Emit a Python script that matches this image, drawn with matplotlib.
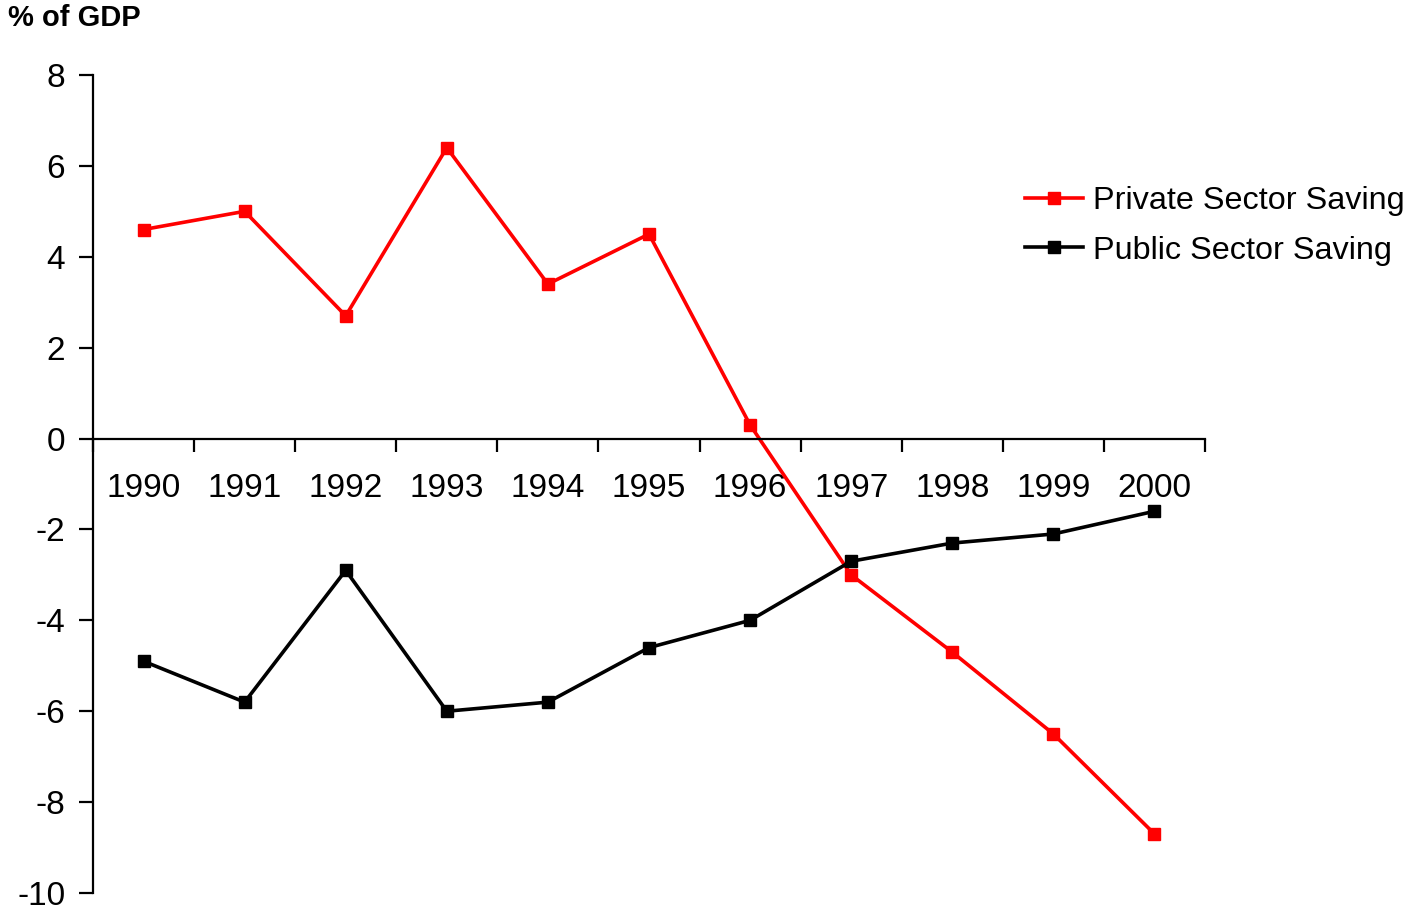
import matplotlib.pyplot as plt
from matplotlib.ticker import FixedLocator

years = ["1990", "1991", "1992", "1993", "1994", "1995",
         "1996", "1997", "1998", "1999", "2000"]
private_saving = [4.6, 5.0, 2.7, 6.4, 3.4, 4.5, 0.3, -3.0, -4.7, -6.5, -8.7]
public_saving = [-4.9, -5.8, -2.9, -6.0, -5.8, -4.6, -4.0, -2.7, -2.3, -2.1, -1.6]

plt.rcParams['font.family'] = ['Liberation Sans', 'DejaVu Sans']
plt.rcParams['axes.unicode_minus'] = False

fig = plt.figure(figsize=(14.09, 9.08), dpi=100)
ax = fig.add_axes([93 / 1409, 1 - 893 / 908, (1205 - 93) / 1409, (893 - 75) / 908])

x = list(range(len(years)))
ax.plot(x, private_saving, color="#ff0000", lw=2.6, marker="s", ms=8,
        label="Private Sector Saving", clip_on=False)
ax.plot(x, public_saving, color="black", lw=2.6, marker="s", ms=8,
        label="Public Sector Saving", clip_on=False)

ax.set_xlim(-0.5, len(years) - 0.5)
ax.set_ylim(-10, 8)
ax.set_yticks(range(-10, 9, 2))
ax.tick_params(axis="y", labelsize=24, length=10, width=1.6, direction="out", pad=10)

# category axis sits on the zero line, ticks between years
ax.spines["top"].set_visible(False)
ax.spines["right"].set_visible(False)
ax.spines["bottom"].set_position(("data", 0))
ax.spines["bottom"].set_linewidth(1.6)
ax.spines["left"].set_linewidth(1.6)
ax.xaxis.set_major_locator(FixedLocator([i - 0.5 for i in range(len(years) + 1)]))
ax.xaxis.set_major_formatter(plt.NullFormatter())
ax.xaxis.set_minor_locator(FixedLocator(x))
ax.set_xticklabels(years, minor=True)
ax.tick_params(axis="x", which="major", length=9, width=1.6, direction="out")
ax.tick_params(axis="x", which="minor", length=0, labelsize=24, pad=25)

fig.text(8 / 1409, 1 - 18 / 908, "% of GDP", fontsize=21, fontweight="bold",
         va="center", ha="left")

fig.legend(loc="center left", bbox_to_anchor=(1012 / 1409, 1 - 226 / 908),
           frameon=False, fontsize=23.3, handlelength=1.8, handletextpad=0.3,
           labelspacing=0.6, borderaxespad=0)

fig.savefig("out.png", dpi=100)
